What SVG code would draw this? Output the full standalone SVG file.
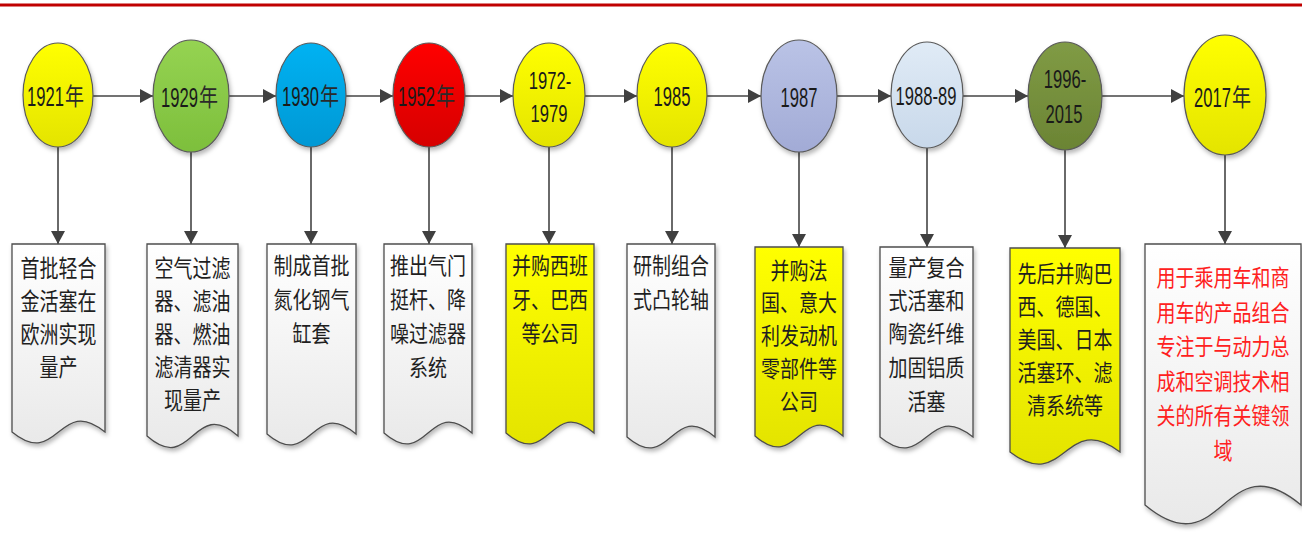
<svg xmlns="http://www.w3.org/2000/svg" width="1302" height="543" viewBox="0 0 1302 543">
<style>
.e{stroke:#5a5a5a;stroke-width:1.2;filter:url(#sh)}
.b{stroke:#4d4d4d;stroke-width:1.3;filter:url(#sh)}
.bg{fill:url(#gGray)}
.by{fill:url(#gYel)}
.d{font-family:"Liberation Sans",Arial,sans-serif;font-size:16.6px;fill:#1a1a1a}
.m{text-anchor:middle}
.n{font-family:"Noto Sans CJK SC",sans-serif;font-size:19px;fill:#2a2a2a}
.t{font-family:"Noto Sans CJK SC",sans-serif;font-size:19px;fill:#1f1f1f;text-anchor:middle}
.r{fill:#ff2020}
.c{stroke:#454545;stroke-width:1.6;fill:none;marker-end:url(#ah)}
</style>
<defs>
<filter id="sh" x="-20%" y="-20%" width="140%" height="140%">
<feDropShadow dx="1.5" dy="3" stdDeviation="2" flood-color="#000" flood-opacity="0.28"/>
</filter>
<marker id="ah" markerUnits="userSpaceOnUse" markerWidth="13" markerHeight="14" refX="13" refY="7" orient="auto">
<path d="M0,0 L13,7 L0,14 Z" fill="#404040"/>
</marker>
<linearGradient id="gGray" x1="0" y1="0" x2="0" y2="1"><stop offset="0" stop-color="#ffffff"/><stop offset="1" stop-color="#e9e9e9"/></linearGradient>
<linearGradient id="gYel" x1="0" y1="0" x2="0" y2="1"><stop offset="0" stop-color="#ffff00"/><stop offset="1" stop-color="#e4e400"/></linearGradient>
<linearGradient id="gGreen" x1="0" y1="0" x2="0" y2="1"><stop offset="0" stop-color="#95d352"/><stop offset="1" stop-color="#7dbf3c"/></linearGradient>
<linearGradient id="gBlue" x1="0" y1="0" x2="0" y2="1"><stop offset="0" stop-color="#00b2f2"/><stop offset="1" stop-color="#0098d4"/></linearGradient>
<linearGradient id="gRed" x1="0" y1="0" x2="0" y2="1"><stop offset="0" stop-color="#ff0000"/><stop offset="1" stop-color="#d60000"/></linearGradient>
<linearGradient id="gLav" x1="0" y1="0" x2="0" y2="1"><stop offset="0" stop-color="#bac3e6"/><stop offset="1" stop-color="#a2abd6"/></linearGradient>
<linearGradient id="gLb" x1="0" y1="0" x2="0" y2="1"><stop offset="0" stop-color="#e0ebf6"/><stop offset="1" stop-color="#c8d8ea"/></linearGradient>
<linearGradient id="gOl" x1="0" y1="0" x2="0" y2="1"><stop offset="0" stop-color="#809b45"/><stop offset="1" stop-color="#6b8434"/></linearGradient>
</defs>
<rect width="1302" height="543" fill="#ffffff"/>
<line x1="0" y1="5" x2="1302" y2="5" stroke="#c00000" stroke-width="3"/>

<g id="connectors">
<line class="c" x1="93" y1="96" x2="153" y2="96"/>
<line class="c" x1="229" y1="96" x2="276" y2="96"/>
<line class="c" x1="346" y1="96" x2="393" y2="96"/>
<line class="c" x1="465" y1="96" x2="513" y2="96"/>
<line class="c" x1="585" y1="96" x2="637" y2="96"/>
<line class="c" x1="707" y1="96" x2="761" y2="96"/>
<line class="c" x1="837" y1="96" x2="891" y2="96"/>
<line class="c" x1="963" y1="96" x2="1028" y2="96"/>
<line class="c" x1="1102" y1="96" x2="1184" y2="96"/>
<line class="c" x1="58" y1="147" x2="58" y2="244"/>
<line class="c" x1="191" y1="152" x2="191" y2="244"/>
<line class="c" x1="311" y1="147" x2="311" y2="244"/>
<line class="c" x1="429" y1="147" x2="429" y2="244"/>
<line class="c" x1="549" y1="147" x2="549" y2="244"/>
<line class="c" x1="672" y1="147" x2="672" y2="244"/>
<line class="c" x1="799" y1="152" x2="799" y2="247"/>
<line class="c" x1="927" y1="148" x2="927" y2="247"/>
<line class="c" x1="1065" y1="150" x2="1065" y2="248"/>
<line class="c" x1="1225" y1="155" x2="1225" y2="244"/>
</g>

<g id="n1921">
<ellipse class="e" cx="58" cy="95" rx="35" ry="52" fill="url(#gYel)"/>
<text class="d" transform="translate(27,106) scale(1,1.7)">1921</text>
<text class="n" transform="translate(65,105) scale(1,1.25)">年</text>
</g>
<g id="n1929">
<ellipse class="e" cx="191" cy="96" rx="38" ry="56" fill="url(#gGreen)"/>
<text class="d" transform="translate(161,107) scale(1,1.7)">1929</text>
<text class="n" transform="translate(199,106) scale(1,1.25)">年</text>
</g>
<g id="n1930">
<ellipse class="e" cx="311" cy="95" rx="35" ry="52" fill="url(#gBlue)"/>
<text class="d" transform="translate(282,106) scale(1,1.7)">1930</text>
<text class="n" transform="translate(320,105) scale(1,1.25)">年</text>
</g>
<g id="n1952">
<ellipse class="e" cx="429" cy="95" rx="36" ry="52" fill="url(#gRed)"/>
<text class="d" transform="translate(398,106) scale(1,1.7)">1952</text>
<text class="n" transform="translate(436,105) scale(1,1.25)">年</text>
</g>
<g id="n1972">
<ellipse class="e" cx="549" cy="95" rx="36" ry="52" fill="url(#gYel)"/>
<text class="d m" font-size="17.6" transform="translate(550,89) scale(1,1.45)">1972-</text>
<text class="d m" font-size="17.6" transform="translate(549,122) scale(1,1.45)">1979</text>
</g>
<g id="n1985">
<ellipse class="e" cx="672" cy="95" rx="35" ry="52" fill="url(#gYel)"/>
<text class="d m" transform="translate(672,106) scale(1,1.7)">1985</text>
</g>
<g id="n1987">
<ellipse class="e" cx="799" cy="96" rx="38" ry="56" fill="url(#gLav)"/>
<text class="d m" font-size="17" transform="translate(799,107) scale(1,1.65)">1987</text>
</g>
<g id="n1988">
<ellipse class="e" cx="927" cy="95" rx="36" ry="53" fill="url(#gLb)"/>
<text class="d m" font-size="17" transform="translate(926,105) scale(1,1.55)">1988-89</text>
</g>
<g id="n1996">
<ellipse class="e" cx="1065" cy="96" rx="37" ry="54" fill="url(#gOl)"/>
<text class="d m" font-size="17" transform="translate(1065,88) scale(1,1.5)">1996-</text>
<text class="d m" font-size="17" transform="translate(1064,123) scale(1,1.5)">2015</text>
</g>
<g id="n2017">
<ellipse class="e" cx="1225" cy="95" rx="41" ry="60" fill="url(#gYel)"/>
<text class="d" transform="translate(1194,107) scale(1,1.7)">2017</text>
<text class="n" transform="translate(1232,106) scale(1,1.25)">年</text>
</g>

<g id="b1">
<path class="b bg" d="M12,244 H105 V432 C58.5,394 58.5,470 12,432 Z"/>
<text class="t" font-size="18.5" transform="translate(58.5,277) scale(1,1.24)">首批轻合</text>
<text class="t" font-size="18.5" transform="translate(58.5,310) scale(1,1.24)">金活塞在</text>
<text class="t" font-size="18.5" transform="translate(58.5,343) scale(1,1.24)">欧洲实现</text>
<text class="t" font-size="18.5" transform="translate(58.5,376) scale(1,1.24)">量产</text>
</g>
<g id="b2">
<path class="b bg" d="M147,244 H238 V436 C192.5,396 192.5,476 147,436 Z"/>
<text class="t" font-size="18.7" transform="translate(192.5,277) scale(1,1.23)">空气过滤</text>
<text class="t" font-size="18.7" transform="translate(192.5,310) scale(1,1.23)">器、滤油</text>
<text class="t" font-size="18.7" transform="translate(192.5,343) scale(1,1.23)">器、燃油</text>
<text class="t" font-size="18.7" transform="translate(192.5,376) scale(1,1.23)">滤清器实</text>
<text class="t" font-size="18.7" transform="translate(192.5,409) scale(1,1.23)">现量产</text>
</g>
<g id="b3">
<path class="b bg" d="M267,244 H356 V434 C311.5,396 311.5,472 267,434 Z"/>
<text class="t" transform="translate(311.5,274) scale(1,1.21)">制成首批</text>
<text class="t" transform="translate(311.5,308) scale(1,1.21)">氮化钢气</text>
<text class="t" transform="translate(311.5,342) scale(1,1.21)">缸套</text>
</g>
<g id="b4">
<path class="b bg" d="M384,244 H472 V433 C428,395 428,471 384,433 Z"/>
<text class="t" transform="translate(428,274) scale(1,1.21)">推出气门</text>
<text class="t" transform="translate(428,308) scale(1,1.21)">挺杆、降</text>
<text class="t" transform="translate(428,342) scale(1,1.21)">噪过滤器</text>
<text class="t" transform="translate(428,376) scale(1,1.21)">系统</text>
</g>
<g id="b5">
<path class="b by" d="M506,244 H594 V433 C550,395 550,471 506,433 Z"/>
<text class="t" transform="translate(550,274) scale(1,1.21)">并购西班</text>
<text class="t" transform="translate(550,308) scale(1,1.21)">牙、巴西</text>
<text class="t" transform="translate(550,342) scale(1,1.21)">等公司</text>
</g>
<g id="b6">
<path class="b bg" d="M627,244 H715 V437 C671,399 671,475 627,437 Z"/>
<text class="t" transform="translate(671,274) scale(1,1.21)">研制组合</text>
<text class="t" transform="translate(671,308) scale(1,1.21)">式凸轮轴</text>
</g>
<g id="b7">
<path class="b by" d="M755,247 H843 V436 C799,398 799,474 755,436 Z"/>
<text class="t" transform="translate(799,279) scale(1,1.21)">并购法</text>
<text class="t" transform="translate(799,311) scale(1,1.21)">国、意大</text>
<text class="t" transform="translate(799,344) scale(1,1.21)">利发动机</text>
<text class="t" transform="translate(799,377) scale(1,1.21)">零部件等</text>
<text class="t" transform="translate(799,410) scale(1,1.21)">公司</text>
</g>
<g id="b8">
<path class="b bg" d="M880,247 H973 V437 C926.5,399 926.5,475 880,437 Z"/>
<text class="t" transform="translate(926.5,276) scale(1,1.21)">量产复合</text>
<text class="t" transform="translate(926.5,309) scale(1,1.21)">式活塞和</text>
<text class="t" transform="translate(926.5,342) scale(1,1.21)">陶瓷纤维</text>
<text class="t" transform="translate(926.5,376) scale(1,1.21)">加固铝质</text>
<text class="t" transform="translate(926.5,410) scale(1,1.21)">活塞</text>
</g>
<g id="b9">
<path class="b by" d="M1010,248 H1120 V452 C1065,410 1065,494 1010,452 Z"/>
<text class="t" transform="translate(1065,282) scale(1,1.21)">先后并购巴</text>
<text class="t" transform="translate(1065,315) scale(1,1.21)">西、德国、</text>
<text class="t" transform="translate(1065,348) scale(1,1.21)">美国、日本</text>
<text class="t" transform="translate(1065,381) scale(1,1.21)">活塞环、滤</text>
<text class="t" transform="translate(1065,414) scale(1,1.21)">清系统等</text>
</g>
<g id="b10">
<path class="b bg" d="M1145,244 H1301 V505 C1223,440 1223,570 1145,505 Z"/>
<text class="t r" transform="translate(1223,286) scale(1,1.21)">用于乘用车和商</text>
<text class="t r" transform="translate(1223,320.5) scale(1,1.21)">用车的产品组合</text>
<text class="t r" transform="translate(1223,355) scale(1,1.21)">专注于与动力总</text>
<text class="t r" transform="translate(1223,389.5) scale(1,1.21)">成和空调技术相</text>
<text class="t r" transform="translate(1223,424) scale(1,1.21)">关的所有关键领</text>
<text class="t r" transform="translate(1223,458.5) scale(1,1.21)">域</text>
</g>
</svg>
